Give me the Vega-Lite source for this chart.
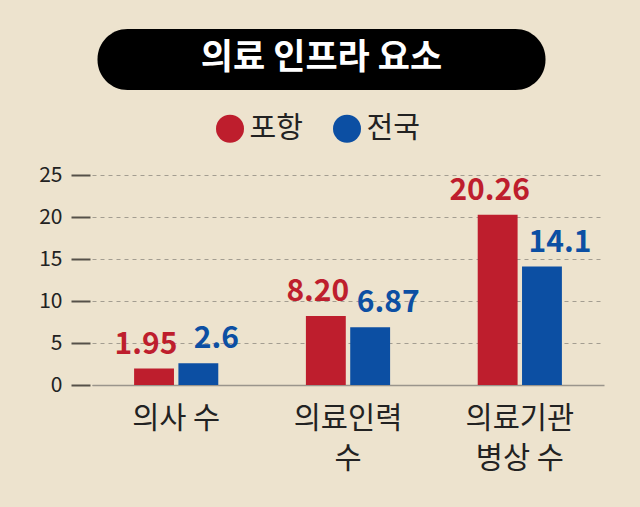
{
  "$schema": "https://vega.github.io/schema/vega-lite/v6.json",
  "background": "#EDE3CE",
  "padding": {"left": 38, "top": 29, "right": 40, "bottom": 40},
  "spacing": 24,
  "center": false,
  "resolve": {"legend": {"color": "independent"}},
  "config": {
    "view": {"stroke": null},
    "font": "Noto Sans CJK KR"
  },
  "vconcat": [
    {
      "width": 448,
      "height": 61,
      "data": {"values": [{"title": "의료 인프라 요소"}]},
      "layer": [
        {
          "mark": {"type": "rect", "color": "#000000", "cornerRadius": 30, "xOffset": 5.5, "x2Offset": 5.5},
          "encoding": {
            "x": {"datum": 0, "type": "quantitative", "scale": {"domain": [0, 1], "nice": false}, "axis": null},
            "x2": {"datum": 1},
            "y": {"datum": 0, "type": "quantitative", "scale": {"domain": [0, 1], "nice": false}, "axis": null},
            "y2": {"datum": 1}
          }
        },
        {
          "mark": {"type": "text", "color": "#FFFFFF", "fontSize": 35, "fontWeight": "bold", "baseline": "middle", "dy": -2, "xOffset": 5.5},
          "encoding": {
            "text": {"field": "title"},
            "x": {"datum": 0.5, "type": "quantitative"},
            "y": {"datum": 0.5, "type": "quantitative"}
          }
        }
      ]
    },
    {
      "width": 512,
      "height": 210,
      "data": {
        "values": [
          {"category": "의사 수", "region": "포항", "value": 1.95, "label": "1.95"},
          {"category": "의사 수", "region": "전국", "value": 2.6, "label": "2.6"},
          {"category": "의료인력\n수", "region": "포항", "value": 8.2, "label": "8.20"},
          {"category": "의료인력\n수", "region": "전국", "value": 6.87, "label": "6.87"},
          {"category": "의료기관\n병상 수", "region": "포항", "value": 20.26, "label": "20.26"},
          {"category": "의료기관\n병상 수", "region": "전국", "value": 14.1, "label": "14.1"}
        ]
      },
      "encoding": {
        "x": {
          "field": "category",
          "type": "nominal",
          "sort": null,
          "scale": {"paddingInner": 0.51, "paddingOuter": 0.245},
          "axis": {
            "title": null,
            "labelAngle": 0,
            "labelFontSize": 29.5,
            "labelColor": "#222222",
            "labelPadding": 19,
            "labelLineHeight": 40,
            "labelExpr": "split(datum.label, '\\n')",
            "ticks": false,
            "domain": true,
            "domainColor": "#9A958C",
            "domainWidth": 1.5
          }
        },
        "xOffset": {
          "field": "region",
          "type": "nominal",
          "sort": ["포항", "전국"],
          "scale": {"paddingInner": 0.1, "paddingOuter": 0}
        },
        "y": {
          "field": "value",
          "type": "quantitative",
          "scale": {"domain": [0, 25], "nice": false},
          "axis": {
            "title": null,
            "values": [0, 5, 10, 15, 20, 25],
            "grid": true,
            "gridDash": [4, 4],
            "gridColor": "#A39D91",
            "gridWidth": 1,
            "domain": false,
            "tickSize": 19,
            "tickColor": "#555049",
            "tickWidth": 2,
            "offset": 2,
            "labelFontSize": 21,
            "labelColor": "#222222",
            "labelPadding": 9
          }
        }
      },
      "layer": [
        {
          "mark": {"type": "bar"},
          "encoding": {
            "color": {
              "field": "region",
              "type": "nominal",
              "scale": {"domain": ["포항", "전국"], "range": ["#BE1E2D", "#0C4FA3"]},
              "legend": {
                "orient": "none",
                "legendX": 123.5,
                "legendY": -61,
                "direction": "horizontal",
                "title": null,
                "symbolType": "circle",
                "symbolSize": 784,
                "symbolStrokeWidth": 0,
                "symbolOpacity": 1,
                "labelFontSize": 29,
                "labelColor": "#222222",
                "labelOffset": 5,
                "columnPadding": 29,
                "labelLimit": 200
              }
            }
          }
        },
        {
          "transform": [{"filter": "datum.region === '포항'"}],
          "mark": {"type": "text", "baseline": "alphabetic", "dy": -15, "dx": -8, "fontSize": 30, "fontWeight": "bold", "color": "#BE1E2D"},
          "encoding": {"text": {"field": "label"}}
        },
        {
          "transform": [{"filter": "datum.region === '전국'"}],
          "mark": {"type": "text", "baseline": "alphabetic", "dy": -15, "dx": 18, "fontSize": 30, "fontWeight": "bold", "color": "#0C4FA3"},
          "encoding": {"text": {"field": "label"}}
        }
      ]
    }
  ]
}
